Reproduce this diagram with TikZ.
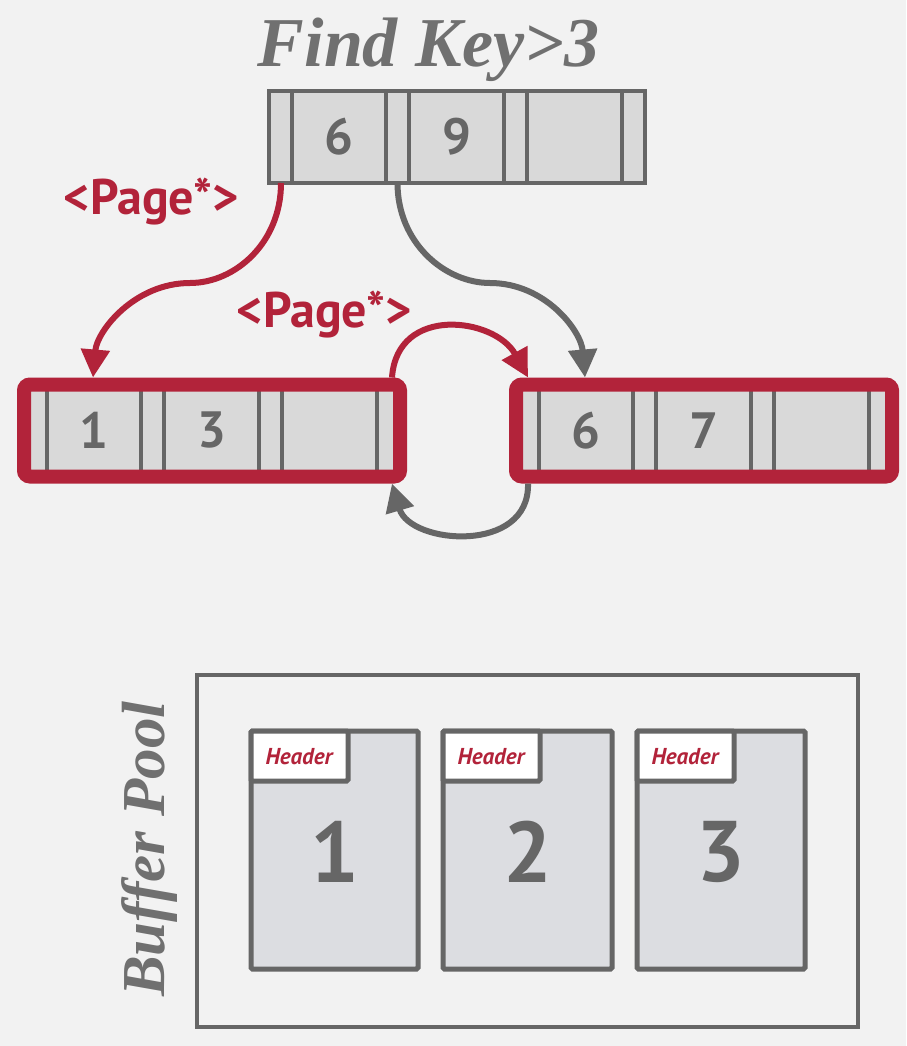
\documentclass[tikz,border=0pt]{standalone}
\usepackage{fontspec}
\setmainfont{Liberation Serif}
\setsansfont{PT Sans}
\usetikzlibrary{arrows.meta,calc}
\definecolor{bg}{HTML}{F2F2F2}
\definecolor{dred}{HTML}{B2233A}
\definecolor{dgray}{HTML}{666666}
\definecolor{tgray}{HTML}{707070}
\definecolor{nfill}{HTML}{D9D9D9}
\definecolor{pfill}{HTML}{DCDDE1}
\tikzset{
  bnodebox/.style={draw=dgray, fill=nfill, line width=4pt, minimum width=376pt, minimum height=92pt, inner sep=0pt, outer sep=0pt},
  divline/.style={draw=dgray, line width=4pt},
  keytext/.style={font=\sffamily\bfseries\fontsize{51}{51}\selectfont, text=dgray, inner sep=0pt},
  redframe/.style={draw=dred, line width=14pt, rounded corners=6pt},
  redarrow/.style={draw=dred, line width=6pt, -{Triangle[length=28pt,width=28pt]}},
  grayarrow/.style={draw=dgray, line width=6pt, -{Triangle[length=28pt,width=28pt]}},
  ptrlabel/.style={font=\sffamily\bfseries\fontsize{50}{50}\selectfont, text=dred, inner sep=0pt, anchor=base},
  titletext/.style={font=\rmfamily\bfseries\itshape\fontsize{70}{70}\selectfont, text=tgray, inner sep=0pt},
  poolbox/.style={draw=dgray, line width=4pt},
  pagebox/.style={draw=dgray, fill=pfill, line width=5pt, rounded corners=1.5pt},
  headerbox/.style={draw=dgray, fill=white, line width=5pt, rounded corners=1.5pt},
  headertext/.style={font=\sffamily\bfseries\itshape\fontsize{23}{23}\selectfont, text=dred, inner sep=0pt},
  pagenum/.style={font=\sffamily\bfseries\fontsize{86}{86}\selectfont, text=dgray, inner sep=0pt},
}
\newcommand\bplustreenode[5]{%
  \node[bnodebox] (#1) at (#2,#3) {};
  \foreach \o in {23,117,140,235,258,353}
    \draw[divline] ($(#1.north west)+(\o,0)$) -- ($(#1.south west)+(\o,0)$);
  \node[keytext] (#1k1) at ($(#1.west)+(70,0)$) {#4};
  \node[keytext] (#1k2) at ($(#1.west)+(187.5,0)$) {#5};
}
\begin{document}
\begin{tikzpicture}[x=1pt,y=-1pt]
\fill[bg] (0,0) rectangle (906,1046);
\useasboundingbox (0,0) rectangle (906,1046);

% title
\node[titletext, anchor=base] (title) at (428.5,67) {Find Key>3};

% nodes
\bplustreenode{T}{457}{137}{6}{9}
\bplustreenode{L}{212}{430.5}{1}{3}
\bplustreenode{R}{704}{430.5}{6}{7}
\draw[redframe] (L.north west) rectangle (L.south east);
\draw[redframe] (R.north west) rectangle (R.south east);

% connectors
\coordinate (ts1) at ($(T.south west)+(12,0)$);
\coordinate (ts2) at ($(T.south west)+(128.5,0)$);
\coordinate (m1) at (190,283);
\coordinate (m2) at (490,283);
\coordinate (lt) at ($(L.north west)+(69,-7)$);
\coordinate (rt) at ($(R.north west)+(69,-7)$);
\draw[redarrow] (ts1) .. controls +(0,60) and +(45,0) .. (m1) .. controls +(-55,0) and +(4,-47) .. (lt);
\draw[grayarrow] (ts2) .. controls +(0,60) and +(-45,0) .. (m2) .. controls +(55,0) and +(-4,-47) .. (rt);

\coordinate (lne) at ($(L.north east)+(-8,-7)$);
\coordinate (rnw) at ($(R.north west)+(12,-7)$);
\coordinate (rsw) at ($(R.south west)+(12,7)$);
\coordinate (lse) at ($(L.south east)+(-8,7)$);
\draw[redarrow] (lne) .. controls +(5,-73) and +(-33,-60) .. (rnw);
\draw[grayarrow] (rsw) .. controls +(2,71) and +(18,61) .. (lse);

\node[ptrlabel] (p1) at (151,214) {<Page*>};
\node[ptrlabel] (p2) at (324,327) {<Page*>};

% buffer pool
\draw[poolbox] (197,675) rectangle (858,1027);
\node[titletext, rotate=90, font=\rmfamily\bfseries\itshape\fontsize{61}{61}\selectfont] (bp) at (150,849) {Buffer Pool};

\foreach \n/\xa/\xb in {1/251/418, 2/443/612, 3/637/805}{
  \draw[pagebox] (\xa,731) rectangle (\xb,969);
  \node[pagenum] (pg\n) at ({(\xa+\xb)/2},852) {\n};
  \draw[headerbox] (\xa,731) rectangle ({\xa+97},781);
  \node[headertext] (hd\n) at ({\xa+48},757) {Header};
}
\end{tikzpicture}
\end{document}
